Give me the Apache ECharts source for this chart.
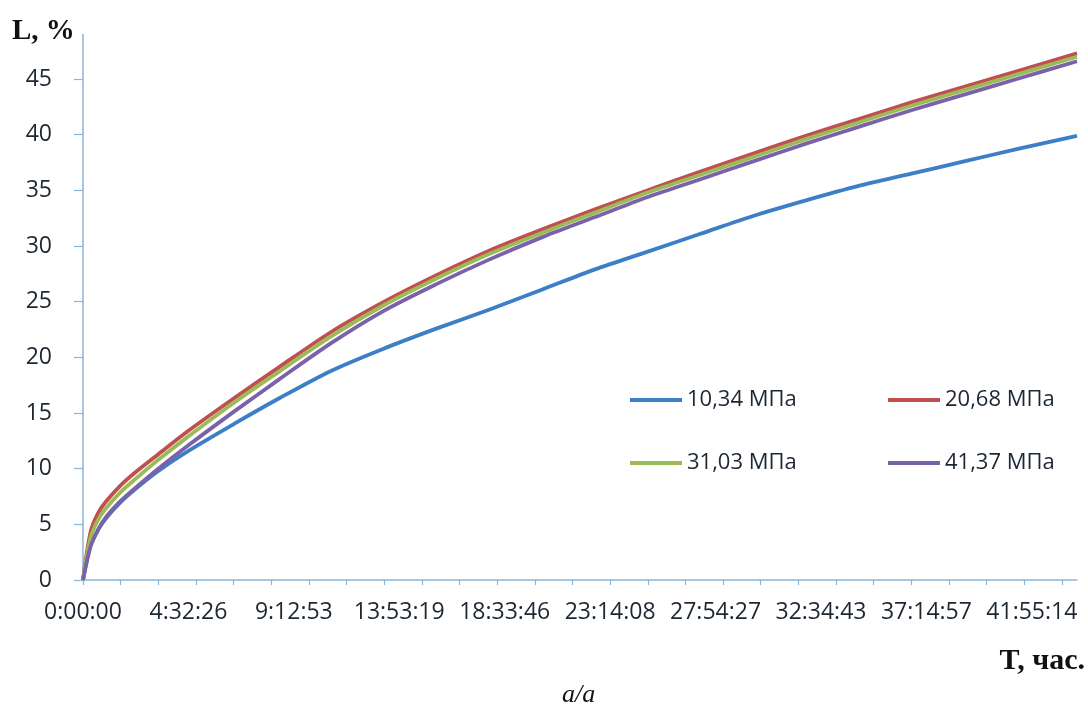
<!DOCTYPE html>
<html>
<head>
<meta charset="utf-8">
<script src="https://cdn.jsdelivr.net/npm/echarts@6/dist/echarts.min.js"></script>
<style>
html,body{margin:0;padding:0;background:#fff;}
#c{width:1088px;height:709px;}
</style>
</head>
<body>
<div id="c"></div>
<script>
// Labelled category times (every 14th sample of 133 samples)
const xTickLabels = ['0:00:00','4:32:26','9:12:53','13:53:19','18:33:46','23:14:08','27:54:27','32:34:43','37:14:57','41:55:14'];
const sampleCount = 133;
const labelStep = 14;
const sampleIdx = [0,1,2,3,5,7,10,14,20,26,33,40,47,54,61,68,75,82,89,96,103,110,117,124,132];
const s1034 = [0,3.1,4.5,5.5,7.0,8.2,9.8,11.6,14.0,16.3,18.8,20.8,22.6,24.3,26.1,27.9,29.5,31.1,32.7,34.1,35.4,36.5,37.6,38.7,39.9];
const s2068 = [0,4.3,6.0,7.0,8.5,9.7,11.3,13.4,16.3,19.1,22.3,25.0,27.4,29.6,31.5,33.3,35.0,36.7,38.3,39.9,41.4,42.9,44.3,45.7,47.3];
const s3103 = [0,3.8,5.4,6.4,7.9,9.1,10.8,12.9,15.9,18.7,21.9,24.7,27.1,29.3,31.2,33.0,34.8,36.4,38.0,39.6,41.1,42.6,44.0,45.4,47.0];
const s4137 = [0,3.0,4.5,5.6,7.1,8.3,10.0,12.1,15.1,18.0,21.3,24.2,26.6,28.8,30.8,32.6,34.4,36.0,37.6,39.2,40.7,42.2,43.6,45.0,46.6];
const seriesNames = ['10,34 МПа','20,68 МПа','31,03 МПа','41,37 МПа'];
const seriesColors = ['#3d7fc6','#c0504d','#9bbb59','#7a62a8'];

const categories = [];
for (let i = 0; i < sampleCount; i++) {
  categories.push(i % labelStep === 0 ? xTickLabels[i / labelStep] : '');
}
const pairs = arr => sampleIdx.map((ix, k) => [ix, arr[k]]);
const allSeries = [s1034, s2068, s3103, s4137];

const axisColor = '#8db5d8';
const txtColor = '#1c2733';
const fontFam = '"Open Sans", "Noto Sans", sans-serif';

const chart = echarts.init(document.getElementById('c'), null, {renderer: 'canvas'});
const legendPos = [[630, 389], [888, 389], [630, 452], [888, 452]];
chart.setOption({
  backgroundColor: '#fff',
  animation: false,
  grid: {left: 83, right: 11, top: 34.5, bottom: 129, containLabel: false},
  xAxis: {
    type: 'category',
    data: categories,
    boundaryGap: false,
    axisLine: {show: true, lineStyle: {color: axisColor, width: 1.5}},
    axisTick: {show: true, interval: 4, length: 5, lineStyle: {color: axisColor, width: 1.2}},
    axisLabel: {interval: labelStep - 1, margin: 21, color: txtColor, fontSize: 23, fontFamily: fontFam},
    splitLine: {show: false}
  },
  yAxis: {
    type: 'value',
    min: 0, max: 49, interval: 5,
    axisLine: {show: true, lineStyle: {color: axisColor, width: 1.5}},
    axisTick: {show: true, length: 9, lineStyle: {color: axisColor, width: 1.2}},
    axisLabel: {margin: 31, color: txtColor, fontSize: 23, fontFamily: fontFam,
      showMaxLabel: false},
    splitLine: {show: false}
  },
  legend: seriesNames.map((n, k) => ({
    data: [n], left: legendPos[k][0], top: legendPos[k][1], padding: 0,
    icon: 'rect', itemWidth: 52, itemHeight: 4,
    textStyle: {color: txtColor, fontSize: 22, fontFamily: fontFam},
    selectedMode: false
  })),
  series: allSeries.map((arr, k) => ({
    name: seriesNames[k],
    type: 'line',
    data: pairs(arr),
    showSymbol: false,
    symbol: 'none',
    smooth: 0.3,
    lineStyle: {color: seriesColors[k], width: 3.8},
    itemStyle: {color: seriesColors[k]},
    z: 2 + k
  })),
  graphic: [
    {type: 'text', left: 12, top: 17, style: {text: 'L, %', font: 'bold 29px "Liberation Serif", "Times New Roman", serif', fill: '#111'}},
    {type: 'text', right: 3, top: 646, style: {text: 'T, час.', font: 'bold 30px "Liberation Serif", "Times New Roman", serif', fill: '#111'}},
    {type: 'text', left: 562, top: 682, style: {text: 'a/a', font: 'italic 26px "Liberation Serif", "Times New Roman", serif', fill: '#111'}}
  ]
});
</script>
</body>
</html>
